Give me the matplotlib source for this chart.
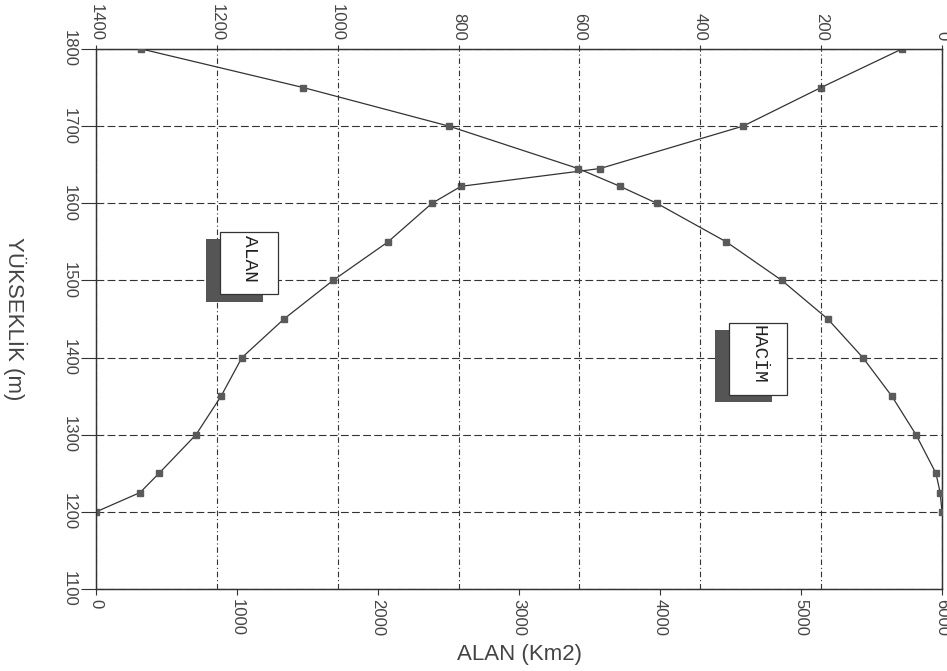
import matplotlib.pyplot as plt
from matplotlib.patches import Rectangle

# elevation (m) and area (km2) - ALAN curve, bottom axis
alan_elev = [1200, 1225, 1250, 1300, 1350, 1400, 1450, 1500, 1550, 1600, 1622, 1645, 1700, 1750, 1800]
alan_area = [0, 312, 447, 709, 887, 1035, 1333, 1681, 2071, 2383, 2589, 3574, 4589, 5142, 5716]

# elevation (m) and volume - HACIM curve, top axis (reversed)
hacim_elev = [1200, 1225, 1250, 1300, 1350, 1400, 1450, 1500, 1550, 1600, 1622, 1645, 1700, 1750, 1800]
hacim_vol = [0, 3, 10, 43, 83, 131, 189, 265, 357, 472, 533, 602, 816, 1057, 1325]

alan_ticks = [0, 1000, 2000, 3000, 4000, 5000, 6000]
hacim_ticks = [1400, 1200, 1000, 800, 600, 400, 200, 0]
elev_ticks = [1100, 1200, 1300, 1400, 1500, 1600, 1700, 1800]

plt.rcParams['font.family'] = ['Liberation Sans', 'DejaVu Sans']
ink = '#333333'
txt = '#444444'

fig = plt.figure(figsize=(9.47, 6.71), dpi=100)
ax = fig.add_axes([0.1014, 0.1222, 0.8933, 0.8048])
ax2 = ax.twiny()

ax.set_xlim(0, 6000)
ax.set_ylim(1100, 1800)
ax2.set_xlim(1400, 0)

ax.set_xticks(alan_ticks)
ax.set_yticks(elev_ticks)
ax2.set_xticks(hacim_ticks)

ax.tick_params(axis='x', direction='out', length=4, width=0.8, pad=3, colors=ink, labelsize=12, labelcolor=txt, labelrotation=-90)
ax.tick_params(axis='y', direction='out', length=11, width=0.8, pad=3, colors=ink, labelsize=12, labelcolor=txt, labelrotation=-90)
ax2.tick_params(axis='x', direction='out', length=3, width=0.8, pad=3, colors=ink, labelsize=12, labelcolor=txt, labelrotation=-90)
for lab in ax.get_yticklabels():
    lab.set_va('center')

# grids: horizontal dashed, vertical dash-dot from top axis
ax.grid(axis='y', color=ink, linewidth=0.8, linestyle=(0, (7, 3)))
ax2.grid(axis='x', color=ink, linewidth=0.8, linestyle=(0, (5, 2.5, 1, 2.5)))
for a in (ax, ax2):
    for s in a.spines.values():
        s.set_color(ink)
        s.set_linewidth(0.9)

ax.plot(alan_area, alan_elev, color=ink, linewidth=0.9, marker='s', markersize=4.5,
        markerfacecolor='#5a5a5a', markeredgecolor='#5a5a5a', zorder=3)
ax2.plot(hacim_vol, hacim_elev, color=ink, linewidth=0.9, marker='s', markersize=4.5,
         markerfacecolor='#5a5a5a', markeredgecolor='#5a5a5a', zorder=3)

ax.set_xlabel('ALAN (Km2)', fontsize=16, color=txt, va='center')
ax.xaxis.set_label_coords(0.5, -0.122)
ax.set_ylabel('YÜKSEKLİK (m)', fontsize=16, color=txt, rotation=-90, va='center', ha='center')
ax.yaxis.set_label_coords(-0.0957, 0.5)

# shadowed label boxes
def label_box(box, shadow, tx, ty, text):
    ax2.add_patch(Rectangle((shadow[0], shadow[1]), shadow[2], shadow[3], transform=ax2.transAxes,
                            facecolor='#555555', edgecolor='none', zorder=4))
    ax2.add_patch(Rectangle((box[0], box[1]), box[2], box[3], transform=ax2.transAxes,
                            facecolor='white', edgecolor=ink, linewidth=0.9, zorder=5))
    ax2.text(tx, ty, text, transform=ax2.transAxes, rotation=-90, ha='center', va='top',
             fontsize=14, family=['Liberation Mono', 'DejaVu Sans Mono'], color='#222222', zorder=6)

label_box((0.1466, 0.5463, 0.0685, 0.1148), (0.1300, 0.5315, 0.0674, 0.1166), 0.182, 0.6556, 'ALAN')
label_box((0.7482, 0.3593, 0.0686, 0.1333), (0.7317, 0.3463, 0.0674, 0.1333), 0.7825, 0.4889, 'HACİM')

fig.savefig('out.png', dpi=100)
